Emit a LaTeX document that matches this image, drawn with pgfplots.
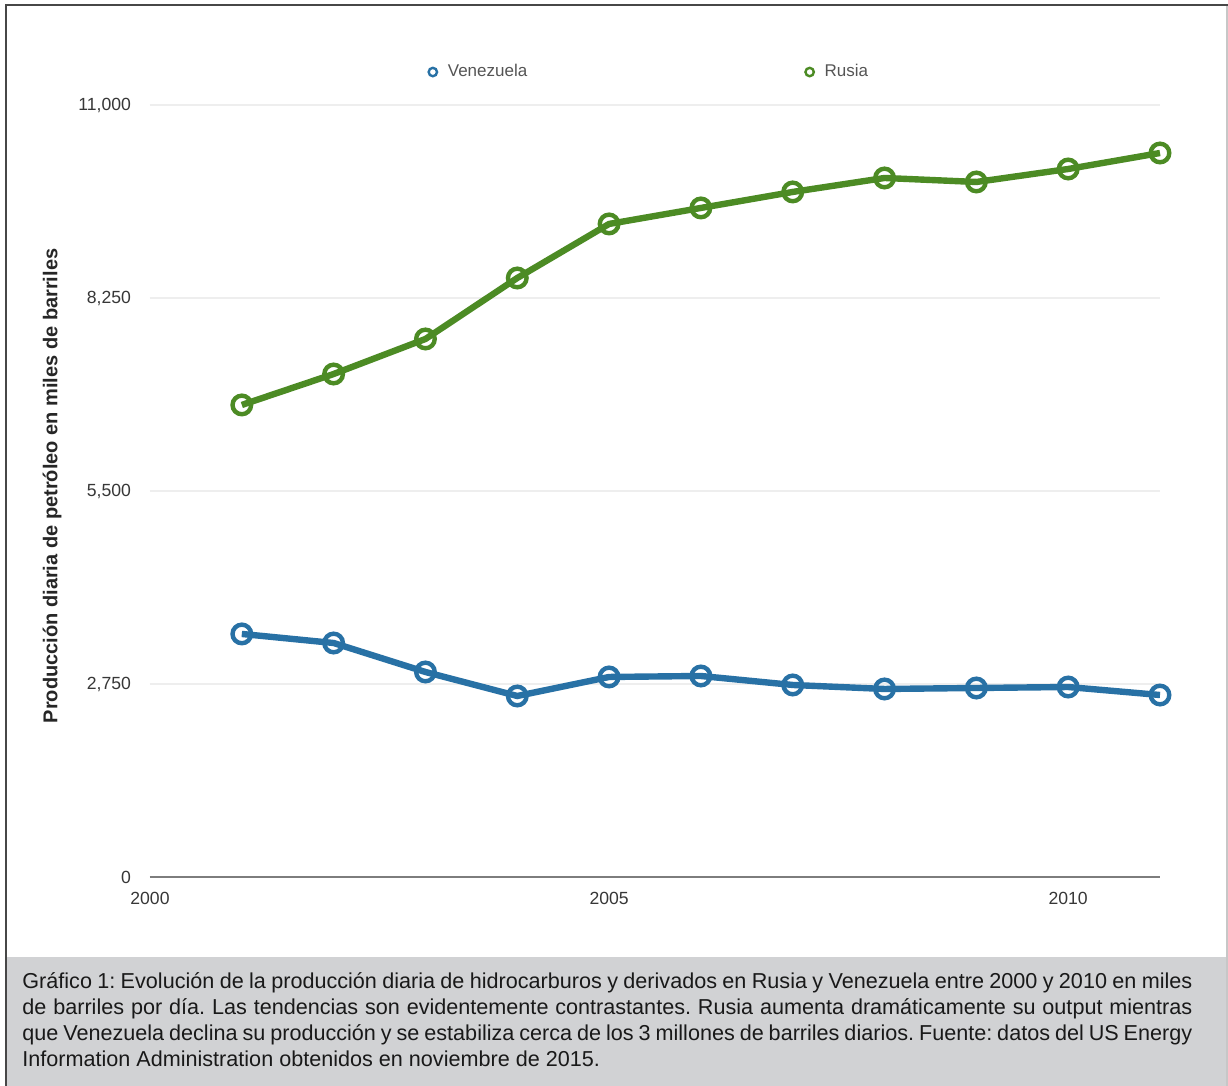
\documentclass[border=0pt]{standalone}
\usepackage{pgfplots}
\pgfplotsset{compat=1.18}
\usepackage{fontspec}
\setmainfont{Liberation Sans}
\definecolor{venblue}{RGB}{40,113,165}
\definecolor{rusgreen}{RGB}{76,139,36}
\definecolor{capgrey}{RGB}{209,210,212}
\definecolor{gridgrey}{RGB}{238,238,238}
\definecolor{axisgrey}{RGB}{125,125,125}
\definecolor{ticktext}{RGB}{55,55,55}
\definecolor{legtext}{RGB}{85,85,85}

\begin{document}
\frenchspacing
\begin{tikzpicture}[x=1pt,y=1pt]
\useasboundingbox (0,0) rectangle (614,543);
\fill[white] (0,0) rectangle (614,543);
\fill[capgrey] (3,0) rectangle (614,64.5);
\draw[color=black!72, line width=1.2pt] (3,0) -- (3,540.5) -- (614,540.5);
\draw[color=black!22, line width=0.6pt] (613.5,0) -- (613.5,540);
\begin{axis}[
  at={(75pt,104.5pt)}, anchor=south west,
  scale only axis, width=505pt, height=386pt,
  xmin=2000, xmax=2011, ymin=0, ymax=11000,
  axis x line*=bottom, axis y line*=left,
  x axis line style={color=axisgrey, line width=1.4pt, -},
  y axis line style={draw=none},
  xtick={2000,2005,2010}, ytick={0,2750,5500,8250,11000},
  major tick length=0pt, tick style={draw=none},
  ymajorgrids, grid style={color=gridgrey, line width=1.4pt},
  scaled y ticks=false, scaled x ticks=false,
  /pgf/number format/assume math mode=true,
  xticklabel style={font=\fontsize{8.8}{10}\selectfont, text=ticktext, /pgf/number format/1000 sep={}, yshift=-4pt},
  yticklabel style={font=\fontsize{8.8}{10}\selectfont, text=ticktext, /pgf/number format/fixed, /pgf/number format/1000 sep={,}, xshift=-6pt},
  clip=false,
  legend columns=2,
  legend style={at={(axis description cs:0.2743,1.0427)}, anchor=west, draw=none, fill=none, inner sep=0pt,
    font=\fontsize{8.5}{10}\selectfont, text=legtext,
    /tikz/every odd column/.append style={column sep=2.8pt},
    /tikz/every even column/.append style={column sep=136.5pt}},
  legend image code/.code={\draw[#1, line width=1.2pt, fill=white] (3pt,0pt) circle (2.1pt);},
]
\addplot[color=venblue, line width=3.2pt, mark=o, mark size=4.65pt, mark options={fill=white, line width=2.2pt}]
  coordinates {(2001,3463) (2002,3334) (2003,2921) (2004,2579) (2005,2850) (2006,2864) (2007,2736) (2008,2679) (2009,2693) (2010,2707) (2011,2593)};
\addlegendentry{Venezuela}
\addplot[color=rusgreen, line width=3.2pt, mark=o, mark size=4.65pt, mark options={fill=white, line width=2.2pt}]
  coordinates {(2001,6726) (2002,7167) (2003,7666) (2004,8535) (2005,9305) (2006,9533) (2007,9761) (2008,9960) (2009,9903) (2010,10088) (2011,10316)};
\addlegendentry{Rusia}
\end{axis}
\node[rotate=90, font=\fontsize{10}{12}\selectfont\bfseries, text=black!85] at (26,300) {Producción diaria de petróleo en miles de barriles};
\node[anchor=base west, inner sep=0pt, align=left, font=\fontsize{10.8}{13.1}\selectfont, text=black!90] at (11,9.5)
{\makebox[585pt][s]{Gráfico 1: Evolución de la producción diaria de hidrocarburos y derivados en Rusia y Venezuela entre 2000 y 2010 en miles}\\
\makebox[585pt][s]{de barriles por día. Las tendencias son evidentemente contrastantes. Rusia aumenta dramáticamente su output mientras}\\
\makebox[585pt][s]{que Venezuela declina su producción y se estabiliza cerca de los 3 millones de barriles diarios. Fuente: datos del US Energy}\\
Information Administration obtenidos en noviembre de 2015.};
\end{tikzpicture}
\end{document}
